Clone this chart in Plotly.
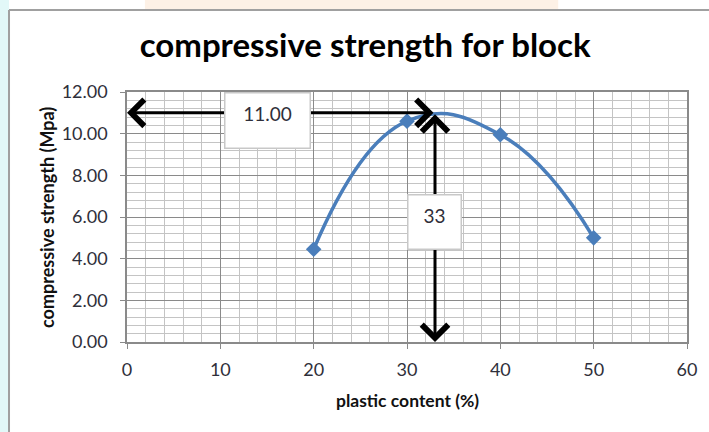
import plotly.graph_objects as go

# Measured compressive strength against plastic content
plastic_content = [20, 30, 40, 50]          # %
strength = [4.45, 10.6, 9.95, 5.0]           # MPa

# Optimum
opt_content = 33
opt_strength = 11.00

x_ticks = [0, 10, 20, 30, 40, 50, 60]
y_ticks = [0, 2, 4, 6, 8, 10, 12]

BLUE = "#4a7ebb"
FONT = "Lato"
TEXT = "#2f2f3a"

fig = go.Figure()

fig.add_trace(go.Scatter(
    x=plastic_content, y=strength,
    mode="lines+markers",
    line=dict(color=BLUE, width=3.5, shape="spline", smoothing=1.3),
    marker=dict(symbol="diamond", size=12, color=BLUE),
    showlegend=False, hoverinfo="skip",
))

fig.update_xaxes(
    range=[0, 60], tickvals=x_ticks, ticktext=[str(v) for v in x_ticks],
    showline=True, linecolor="#8a8a8a", linewidth=1.5, mirror=True,
    showgrid=True, gridcolor="#8a8a8a", gridwidth=1.2, zeroline=False,
    ticks="outside", ticklen=5, tickcolor="#8a8a8a",
    tickfont=dict(family=FONT, size=18, color=TEXT),
    minor=dict(dtick=2, showgrid=True, gridcolor="#c4c4c4", gridwidth=1.2),
    ticklabelstandoff=6,
)
fig.update_yaxes(
    range=[0, 12], tickvals=y_ticks, ticktext=[f"{v:.2f}" for v in y_ticks],
    showline=True, linecolor="#8a8a8a", linewidth=1.5, mirror=True,
    showgrid=True, gridcolor="#8a8a8a", gridwidth=1.2, zeroline=False,
    ticks="outside", ticklen=5, tickcolor="#8a8a8a",
    tickfont=dict(family=FONT, size=18, color=TEXT),
    minor=dict(dtick=0.4, showgrid=True, gridcolor="#c4c4c4", gridwidth=1.2),
    ticklabelstandoff=9,
)

arrow_style = dict(
    xref="x", yref="y", axref="x", ayref="y", text="",
    showarrow=True, arrowhead=4, startarrowhead=4, arrowside="end+start",
    arrowsize=1.7, startarrowsize=1.7, arrowwidth=3, arrowcolor="black",
    standoff=0, startstandoff=0,
)

box_style = dict(
    xref="paper", yref="paper", xanchor="left", yanchor="top",
    showarrow=False, align="center", valign="top", borderpad=8,
    bgcolor="white", bordercolor="#c8c8c8", borderwidth=1.5,
    font=dict(family=FONT, size=19, color=TEXT),
)

annotations = [
    # horizontal double arrow at the optimum strength
    dict(x=0, y=opt_strength, ax=opt_content, ay=opt_strength, **arrow_style),
    # vertical double arrow at the optimum plastic content
    dict(x=opt_content, y=0, ax=opt_content, ay=opt_strength, **arrow_style),
    # value boxes
    dict(x=0.173, y=1.0, text=f"{opt_strength:.2f}", width=68, height=38, **box_style),
    dict(x=0.5, y=0.592, text=f"{opt_content}", width=36, height=37, **box_style),
    # axis titles
    dict(x=0.5, y=-0.232, xref="paper", yref="paper", xanchor="center", yanchor="middle",
         text="<b>plastic content (%)</b>", showarrow=False,
         font=dict(family=FONT, size=17.5, color="#111111")),
    dict(x=-0.143, y=0.5, xref="paper", yref="paper", xanchor="center", yanchor="middle",
         text="<b>compressive strength (Mpa)</b>", showarrow=False, textangle=-90,
         font=dict(family=FONT, size=18, color="#111111")),
]

shapes = [
    # surrounding sheet strips
    dict(type="rect", xref="paper", yref="paper", x0=-0.2268, x1=-0.2107, y0=-0.36, y1=1.368,
         fillcolor="#e2f8f8", line=dict(width=0), layer="below"),
    dict(type="rect", xref="paper", yref="paper", x0=0.032, x1=0.77, y0=1.328, y1=1.368,
         fillcolor="#fdf1e6", line=dict(width=0), layer="below"),
    # chart frame
    dict(type="line", xref="paper", yref="paper", x0=-0.2107, x1=1.04, y0=1.328, y1=1.328,
         line=dict(color="#a0a0a0", width=2)),
    dict(type="line", xref="paper", yref="paper", x0=-0.2107, x1=-0.2107, y0=-0.37, y1=1.328,
         line=dict(color="#a0a0a0", width=2)),
]

fig.update_layout(
    width=709, height=432,
    margin=dict(l=127, r=22, t=92, b=90),
    paper_bgcolor="white", plot_bgcolor="white",
    title=dict(text="<b>compressive strength for block</b>", x=0.515, xanchor="center",
               y=0.895, yanchor="middle",
               font=dict(family=FONT, size=33, color="black")),
    annotations=annotations, shapes=shapes,
)

fig.write_html("out.html")
